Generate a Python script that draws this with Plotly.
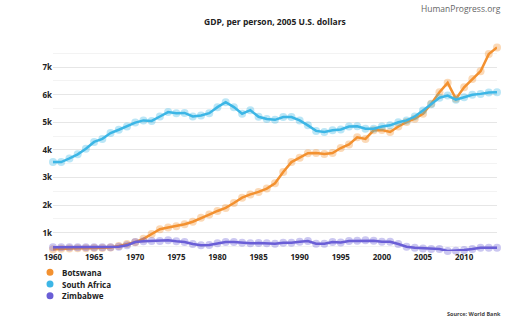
import plotly.graph_objects as go

years = list(range(1960, 2015))

botswana = [400, 420, 430, 437, 440, 445, 450, 470, 520, 590, 660, 780, 960, 1130, 1190, 1240,
            1310, 1400, 1540, 1660, 1790, 1900, 2080, 2270, 2390, 2480, 2600, 2790, 3200, 3560,
            3720, 3880, 3890, 3850, 3890, 4070, 4200, 4460, 4400, 4710, 4720, 4650, 4850, 5010,
            5130, 5310, 5670, 6090, 6430, 5850, 6270, 6570, 6850, 7470, 7710]

south_africa = [3560, 3560, 3690, 3840, 4040, 4290, 4400, 4610, 4730, 4850, 4990, 5070, 5050, 5210,
                5370, 5330, 5340, 5210, 5250, 5330, 5550, 5730, 5550, 5310, 5440, 5200, 5120, 5090,
                5190, 5190, 5070, 4890, 4690, 4650, 4710, 4740, 4850, 4860, 4770, 4770, 4850, 4890,
                5000, 5070, 5210, 5430, 5650, 5890, 5970, 5820, 5910, 6000, 6030, 6080, 6090]

zimbabwe = [473, 475, 475, 478, 475, 478, 478, 480, 495, 545, 664, 690, 700, 700, 725, 690, 664,
            592, 545, 560, 617, 664, 664, 640, 617, 628, 617, 605, 640, 640, 675, 700, 605, 605,
            664, 652, 700, 712, 725, 712, 675, 675, 592, 495, 458, 434, 409, 409, 340, 350, 375,
            410, 458, 458, 458]

names = ["Botswana", "South Africa", "Zimbabwe"]
colors = ["#f39130", "#3db6e6", "#6a5ed6"]
halos = ["rgba(243,145,48,0.35)", "rgba(61,182,230,0.35)", "rgba(106,94,214,0.35)"]
series = [botswana, south_africa, zimbabwe]

x_ticks = [1960, 1965, 1970, 1975, 1980, 1985, 1990, 1995, 2000, 2005, 2010]
y_ticks = [1000, 2000, 3000, 4000, 5000, 6000, 7000]
y_tick_labels = ["1k", "2k", "3k", "4k", "5k", "6k", "7k"]
y_minor = [500, 1500, 2500, 3500, 4500, 5500, 6500, 7500]

title_text = "GDP, per person, 2005 U.S. dollars"
brand_text = "HumanProgress.org"
source_text = "Source: World Bank"

font = "Open Sans"
dark = "#222222"

fig = go.Figure()
for name, vals, col, halo in zip(names, series, colors, halos):
    fig.add_trace(go.Scatter(
        x=years, y=vals, name=name, mode="lines+markers",
        line=dict(color=col, width=2.5),
        marker=dict(size=8, color=halo, line=dict(width=0)),
        showlegend=False, cliponaxis=False,
    ))

annotations = [
    dict(text="<b>" + title_text + "</b>", xref="paper", yref="paper", x=0.5, y=1,
         yshift=24, xanchor="center", yanchor="middle", showarrow=False,
         font=dict(family=font, size=8.5, color=dark)),
    dict(text=brand_text, xref="paper", yref="paper", x=1, y=1, xshift=6, yshift=37,
         xanchor="right", yanchor="middle", showarrow=False,
         font=dict(family=font, size=8.5, color="#666666")),
    dict(text="<b>" + source_text + "</b>", xref="paper", yref="paper", x=1, y=0,
         xshift=6, yshift=-62.5, xanchor="right", yanchor="middle", showarrow=False,
         font=dict(family=font, size=5.5, color="#444444")),
]
shapes = []
for i, (name, col) in enumerate(zip(names, colors)):
    cy = -21.3 - 11.7 * i
    annotations.append(dict(
        text="<b>%s</b>" % name,
        xref="paper", yref="paper", x=0, y=0, xshift=6.5, yshift=cy,
        xanchor="left", yanchor="middle", showarrow=False,
        font=dict(family=font, size=8, color=dark)))
    shapes.append(dict(
        type="circle", xref="paper", yref="paper",
        xsizemode="pixel", ysizemode="pixel", xanchor=0, yanchor=0,
        x0=-6.5, x1=0.5, y0=cy - 3.5, y1=cy + 3.5,
        fillcolor=col, line=dict(width=0)))

fig.update_layout(
    width=522, height=323,
    margin=dict(l=53, r=25, t=45, b=72),
    paper_bgcolor="white", plot_bgcolor="white",
    annotations=annotations, shapes=shapes,
    xaxis=dict(range=[1960, 2014], tickvals=x_ticks,
               ticktext=["<b>%d</b>" % v for v in x_ticks],
               showgrid=False, zeroline=False,
               showline=False, ticks="", tickfont=dict(family=font, size=8, color=dark)),
    yaxis=dict(range=[340, 7800], tickvals=y_ticks,
               ticktext=["<b>%s</b>" % t for t in y_tick_labels],
               showgrid=True, gridcolor="#e6e6e6", gridwidth=1, zeroline=False,
               showline=False, ticks="", tickfont=dict(family=font, size=8, color=dark),
               minor=dict(tickvals=y_minor, showgrid=True, gridcolor="#f3f3f3", ticks="")),
)
fig.write_html("out.html")
